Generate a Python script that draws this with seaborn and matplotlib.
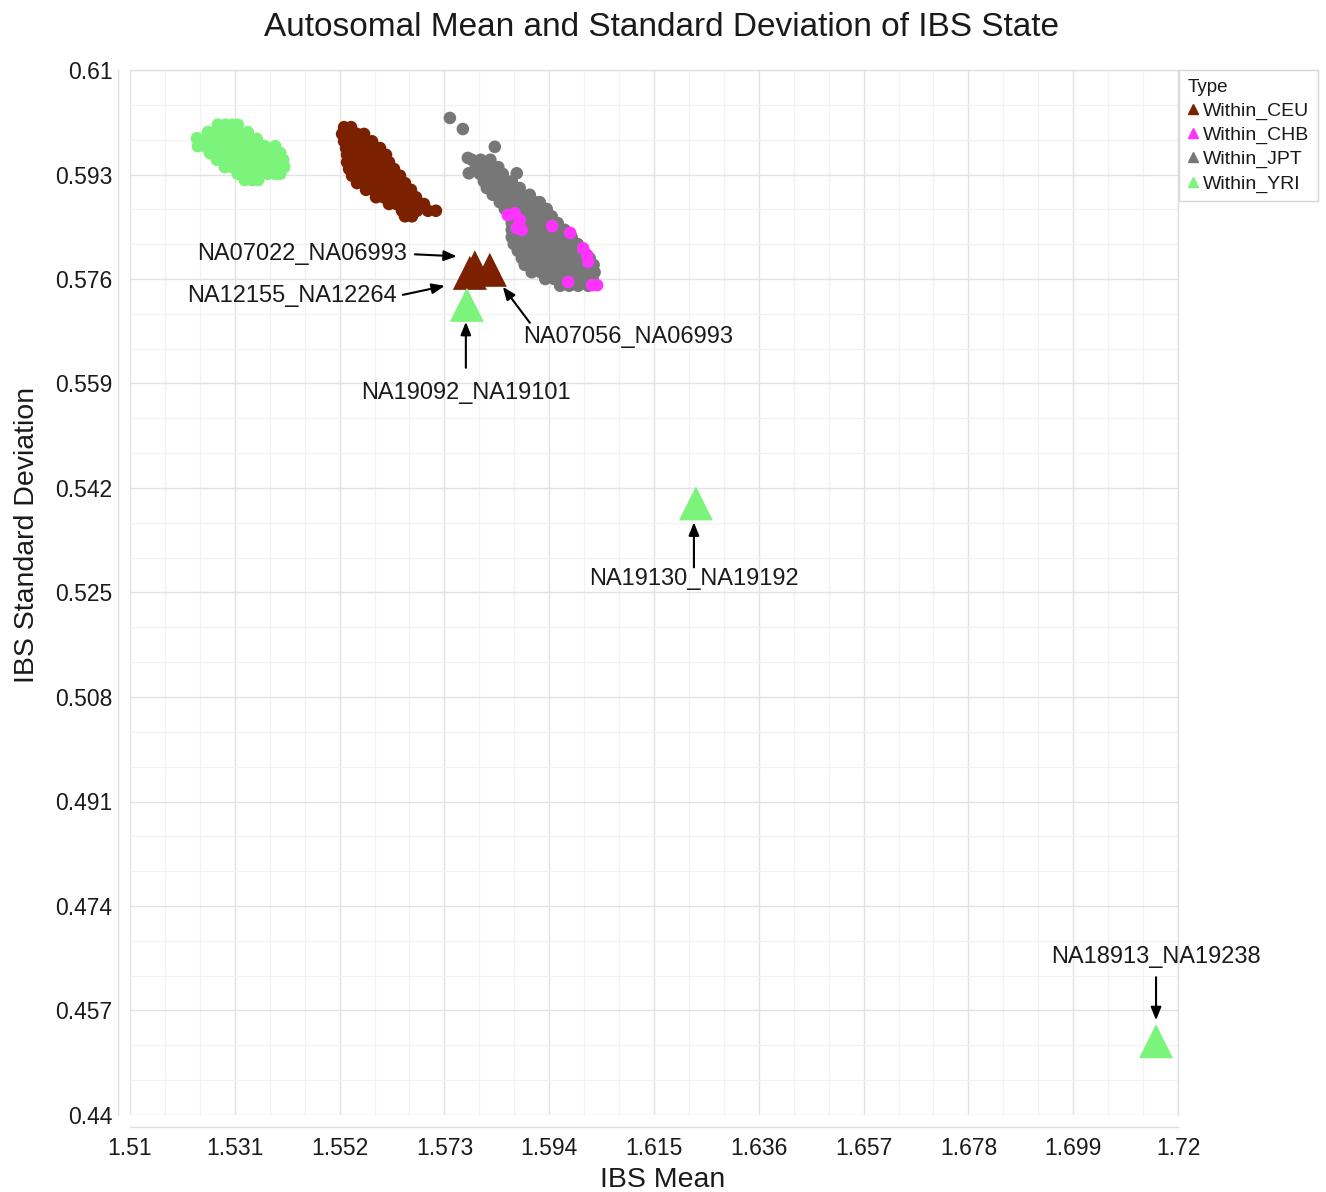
import matplotlib
matplotlib.use("Agg")
import matplotlib.pyplot as plt
import matplotlib.transforms as mtransforms
from matplotlib.lines import Line2D
from matplotlib.ticker import AutoMinorLocator
import pandas as pd
import seaborn as sns

# ---------------- data ----------------
types = ["Within_CEU", "Within_CHB", "Within_JPT", "Within_YRI"]
colors = ["#7B2100", "#FF33FF", "#777777", "#7CF47C"]

x_ticks = [1.51, 1.531, 1.552, 1.573, 1.594, 1.615, 1.636, 1.657, 1.678, 1.699, 1.72]
x_tick_labels = ["1.51", "1.531", "1.552", "1.573", "1.594", "1.615", "1.636",
                 "1.657", "1.678", "1.699", "1.72"]
y_ticks = [0.44, 0.457, 0.474, 0.491, 0.508, 0.525, 0.542, 0.559, 0.576, 0.593, 0.61]
y_tick_labels = ["0.44", "0.457", "0.474", "0.491", "0.508", "0.525", "0.542",
                 "0.559", "0.576", "0.593", "0.61"]

# point clouds, read row by row: (IBS SD, [IBS means])
yri_rows = [
    (0.6011, [1.5276, 1.5291, 1.5306, 1.5316]),
    (0.5999, [1.5256, 1.5271, 1.5286, 1.5301, 1.5316, 1.5336]),
    (0.5988, [1.5250, 1.5265, 1.5280, 1.5295, 1.5310, 1.5325, 1.5340, 1.5354]),
    (0.5976, [1.5250, 1.5265, 1.5280, 1.5295, 1.5310, 1.5325, 1.5340, 1.5355, 1.5370, 1.5391]),
    (0.5965, [1.5260, 1.5275, 1.5290, 1.5305, 1.5320, 1.5335, 1.5350, 1.5365, 1.5380, 1.5401]),
    (0.5954, [1.5274, 1.5289, 1.5304, 1.5319, 1.5334, 1.5349, 1.5364, 1.5379, 1.5394, 1.5407]),
    (0.5942, [1.5290, 1.5305, 1.5320, 1.5335, 1.5350, 1.5365, 1.5380, 1.5395, 1.5409]),
    (0.5931, [1.5316, 1.5331, 1.5346, 1.5361, 1.5376, 1.5391, 1.5401]),
    (0.5921, [1.5330, 1.5345, 1.5357]),
    (0.5989, [1.5234]),
    (0.5976, [1.5236]),
]
ceu_rows = [
    (0.6007, [1.5529, 1.5543]),
    (0.5996, [1.5525, 1.5540, 1.5555, 1.5569]),
    (0.5984, [1.5529, 1.5544, 1.5559, 1.5574, 1.5585]),
    (0.5973, [1.5533, 1.5548, 1.5563, 1.5578, 1.5593, 1.5601]),
    (0.5962, [1.5535, 1.5550, 1.5565, 1.5580, 1.5595, 1.5613]),
    (0.5950, [1.5535, 1.5550, 1.5565, 1.5580, 1.5595, 1.5610, 1.5619]),
    (0.5939, [1.5539, 1.5554, 1.5569, 1.5584, 1.5599, 1.5614, 1.5629]),
    (0.5928, [1.5545, 1.5560, 1.5575, 1.5590, 1.5605, 1.5620, 1.5635, 1.5641]),
    (0.5916, [1.5555, 1.5570, 1.5585, 1.5600, 1.5615, 1.5630, 1.5645, 1.5651]),
    (0.5905, [1.5573, 1.5588, 1.5603, 1.5618, 1.5633, 1.5648, 1.5663]),
    (0.5893, [1.5593, 1.5608, 1.5623, 1.5638, 1.5653, 1.5668, 1.5673]),
    (0.5882, [1.5619, 1.5634, 1.5649, 1.5664, 1.5679, 1.5689]),
    (0.5871, [1.5645, 1.5660, 1.5675, 1.5697, 1.5713]),
    (0.5862, [1.5651, 1.5665]),
]
jpt_rows = [
    (0.6022, [1.5741]),
    (0.6004, [1.5767]),
    (0.5975, [1.5831]),
    (0.5957, [1.5777]),
    (0.5954, [1.5785, 1.5803, 1.5822]),
    (0.5942, [1.5793, 1.5811, 1.5829, 1.5838]),
    (0.5932, [1.5779, 1.5875]),
    (0.5931, [1.5801, 1.5819, 1.5837, 1.5847]),
    (0.5919, [1.5809, 1.5827, 1.5845, 1.5865]),
    (0.5908, [1.5815, 1.5833, 1.5851, 1.5869, 1.5881]),
    (0.5897, [1.5827, 1.5845, 1.5863, 1.5881, 1.5901]),
    (0.5885, [1.5841, 1.5859, 1.5877, 1.5895, 1.5913, 1.5921]),
    (0.5874, [1.5851, 1.5869, 1.5887, 1.5905, 1.5923, 1.5935]),
    (0.5862, [1.5861, 1.5879, 1.5897, 1.5915, 1.5933, 1.5945]),
    (0.5851, [1.5865, 1.5883, 1.5901, 1.5919, 1.5937, 1.5957]),
    (0.5840, [1.5865, 1.5883, 1.5901, 1.5919, 1.5937, 1.5955, 1.5971]),
    (0.5828, [1.5865, 1.5883, 1.5901, 1.5919, 1.5937, 1.5955, 1.5973, 1.5985]),
    (0.5817, [1.5869, 1.5887, 1.5905, 1.5923, 1.5941, 1.5959, 1.5977, 1.5997]),
    (0.5806, [1.5877, 1.5895, 1.5913, 1.5931, 1.5949, 1.5967, 1.5985, 1.6009]),
    (0.5794, [1.5885, 1.5903, 1.5921, 1.5939, 1.5957, 1.5975, 1.5993, 1.6011, 1.6021]),
    (0.5783, [1.5891, 1.5909, 1.5927, 1.5945, 1.5963, 1.5981, 1.5999, 1.6017, 1.6029]),
    (0.5771, [1.5905, 1.5923, 1.5941, 1.5959, 1.5977, 1.5995, 1.6013, 1.6031]),
    (0.5760, [1.5932, 1.5950, 1.5968, 1.5986, 1.6004, 1.6027]),
    (0.5749, [1.5962, 1.5980, 1.5998, 1.6018]),
]
chb_mean = [1.5857, 1.5871, 1.5881, 1.5875, 1.5885, 1.5946, 1.5982,
            1.6008, 1.6016, 1.6018, 1.5978, 1.6026, 1.6036]
chb_sd = [0.5864, 0.5867, 0.5856, 0.5843, 0.5840, 0.5846, 0.5835,
          0.5810, 0.5799, 0.5788, 0.5755, 0.5750, 0.5750]

# labelled pairs (large triangles)
pair_names = ["NA07022_NA06993", "NA12155_NA12264", "NA07056_NA06993",
              "NA19092_NA19101", "NA19130_NA19192", "NA18913_NA19238"]
pair_types = ["Within_CEU", "Within_CEU", "Within_CEU",
              "Within_YRI", "Within_YRI", "Within_YRI"]
pair_mean = [1.5791, 1.5781, 1.5821, 1.5775, 1.6234, 1.7156]
pair_sd = [0.5779, 0.5770, 0.5775, 0.5718, 0.5395, 0.4520]

# ---------------- tables ----------------
def flatten(rows, t):
    return [{"IBS Mean": x, "IBS SD": y, "Type": t} for y, xs in rows for x in xs]

cloud = pd.DataFrame(
    flatten(ceu_rows, "Within_CEU")
    + flatten(jpt_rows, "Within_JPT")
    + [{"IBS Mean": x, "IBS SD": y, "Type": "Within_CHB"} for x, y in zip(chb_mean, chb_sd)]
    + flatten(yri_rows, "Within_YRI")
)
pairs = pd.DataFrame({"Pair": pair_names, "Type": pair_types,
                      "IBS Mean": pair_mean, "IBS SD": pair_sd})
palette = dict(zip(types, colors))

# ---------------- style ----------------
sns.set_theme(style="white")
plt.rcParams["font.family"] = ["Liberation Sans", "DejaVu Sans"]
TXT = "#1a1a1a"

fig = plt.figure(figsize=(13.26, 11.92), dpi=100)
ax = fig.add_axes([130 / 1326, 1 - 1115 / 1192, 1048 / 1326, 1045 / 1192])

sns.scatterplot(data=cloud, x="IBS Mean", y="IBS SD", hue="Type", palette=palette,
                s=82, edgecolor="none", linewidth=0, legend=False, ax=ax, zorder=3)
sns.scatterplot(data=pairs, x="IBS Mean", y="IBS SD", hue="Type", palette=palette,
                marker="^", s=600, edgecolor="none", linewidth=0, legend=False,
                ax=ax, zorder=4)

ax.set_xlim(1.51, 1.72)
ax.set_ylim(0.44, 0.61)
ax.set_xticks(x_ticks)
ax.set_xticklabels(x_tick_labels)
ax.set_yticks(y_ticks)
ax.set_yticklabels(y_tick_labels)
ax.xaxis.set_minor_locator(AutoMinorLocator(3))
ax.yaxis.set_minor_locator(AutoMinorLocator(3))
ax.set_axisbelow(True)
ax.grid(which="major", color="#E2E2E2", linewidth=1.0)
ax.grid(which="minor", color="#F2F2F2", linewidth=0.9)
ax.tick_params(which="both", length=0)
ax.tick_params(axis="x", pad=7, labelsize=16.5, labelcolor=TXT)
ax.tick_params(axis="y", pad=4, labelsize=16.5, labelcolor=TXT)

for side in ["top", "right"]:
    ax.spines[side].set_color("#E0E0E0")
    ax.spines[side].set_linewidth(1.0)
for side in ["left", "bottom"]:
    ax.spines[side].set_position(("outward", 8.6))
    ax.spines[side].set_color("#DDDDDD")
    ax.spines[side].set_linewidth(1.0)

ax.set_xlabel("IBS Mean", fontsize=20.5, color=TXT, va="center")
ax.xaxis.set_label_coords(0.5086, -0.0622)
ax.set_ylabel("IBS Standard Deviation", fontsize=20.5, color=TXT, va="center")
ax.yaxis.set_label_coords(-0.098, 0.555)

fig.text(661 / 1326, 1 - 27 / 1192, "Autosomal Mean and Standard Deviation of IBS State",
         ha="center", va="center", fontsize=24, color=TXT)

# ---------------- annotations (offsets in pixels from triangle centre) ----------------
ann_layout = {
    "NA07022_NA06993": dict(text=(-68, 13), ha="right", tail=(-60, 13), head=(-18, 11)),
    "NA12155_NA12264": dict(text=(-73, -23), ha="right", tail=(-67, -22), head=(-25, -13)),
    "NA07056_NA06993": dict(text=(33, -67), ha="left", tail=(40, -53), head=(13, -17)),
    "NA19092_NA19101": dict(text=(-1, -88), ha="center", tail=(-1, -63), head=(-1, -17)),
    "NA19130_NA19192": dict(text=(-2, -76), ha="center", tail=(-2, -64), head=(-2, -19)),
    "NA18913_NA19238": dict(text=(0, 84), ha="center", tail=(0, 64), head=(0, 21)),
}


def off(dx, dy):
    return ax.transData + mtransforms.ScaledTranslation(dx / 100, dy / 100, fig.dpi_scale_trans)


for _, r in pairs.iterrows():
    lay = ann_layout[r["Pair"]]
    xy = (r["IBS Mean"], r["IBS SD"])
    ax.text(xy[0], xy[1], r["Pair"], transform=off(*lay["text"]), ha=lay["ha"],
            va="center", fontsize=17, color=TXT, zorder=6)
    ax.annotate("", xy=xy, xycoords=off(*lay["head"]), xytext=xy,
                textcoords=off(*lay["tail"]),
                arrowprops=dict(arrowstyle="-|>,head_length=0.55,head_width=0.22",
                                mutation_scale=14, color="black", lw=1.5,
                                shrinkA=0, shrinkB=0),
                zorder=6)

# ---------------- legend ----------------
handles = [Line2D([0], [0], marker="^", linestyle="", color=palette[t], markersize=7)
           for t in types]
leg = fig.legend(handles, types, title="Type", loc="upper left",
                 bbox_to_anchor=(1179 / 1326, 1 - 70 / 1192), borderaxespad=0,
                 frameon=True, fancybox=False, edgecolor="#D8D8D8", framealpha=1,
                 fontsize=14, title_fontsize=13.5, handlelength=0.5,
                 handletextpad=0.3, labelspacing=0.33, borderpad=0.45,
                 alignment="left")
leg.get_frame().set_linewidth(1.0)
for t in leg.get_texts():
    t.set_color(TXT)
leg.get_title().set_color(TXT)

fig.savefig("out.png", dpi=100)
